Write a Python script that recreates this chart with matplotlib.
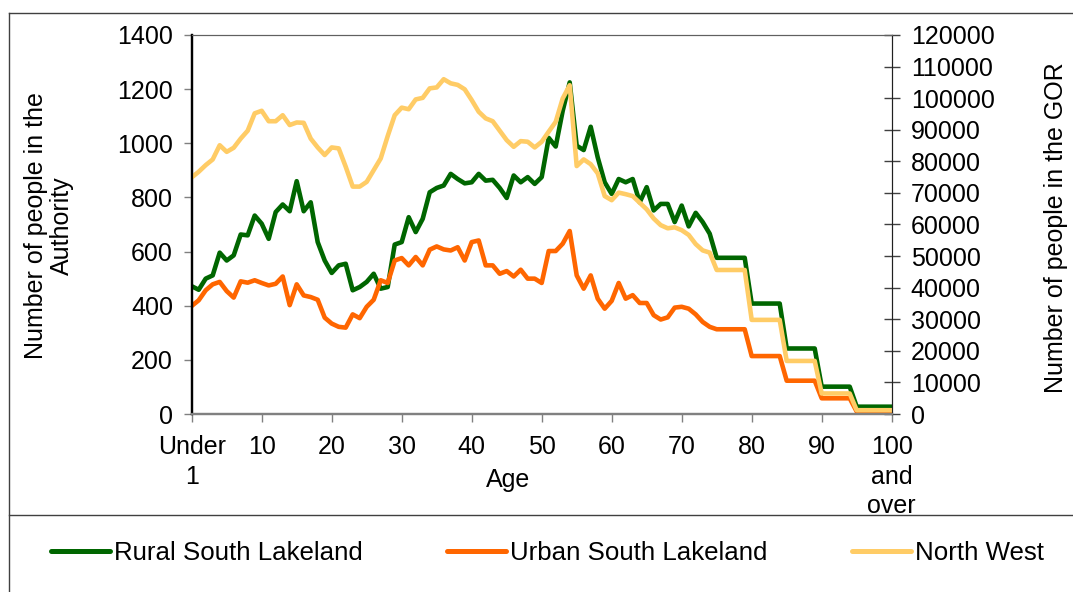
import matplotlib.pyplot as plt
from matplotlib.lines import Line2D

plt.rcParams['font.family'] = ['Liberation Sans', 'DejaVu Sans']

# single years of age, 0 = "Under 1", 100 = "100 and over"
ages = list(range(101))

rural = [472, 459, 500, 512, 596, 567, 586, 663, 660, 733,
         703, 647, 746, 774, 749, 860, 749, 782, 635, 567,
         521, 549, 555, 457, 469, 488, 518, 463, 469, 626,
         635, 727, 672, 721, 819, 835, 844, 887, 868, 852,
         856, 887, 862, 865, 835, 798, 881, 856, 875, 850,
         875, 1020, 988, 1120, 1225, 991, 975, 1061, 948, 856,
         813, 868, 856, 868, 782, 838, 752, 776, 776, 709,
         770, 693, 743, 709, 666, 577, 577, 577, 577, 577,
         408, 408, 408, 408, 408, 242, 242, 242, 242, 242,
         101, 101, 101, 101, 101, 27, 27, 27, 27, 27,
         27]

urban = [399, 420, 457, 479, 488, 454, 430, 490, 485, 494,
         484, 475, 481, 508, 402, 479, 438, 432, 422, 356,
         334, 322, 319, 368, 354, 396, 422, 494, 484, 567,
         576, 549, 580, 549, 607, 619, 608, 604, 616, 567,
         635, 641, 549, 549, 518, 528, 508, 533, 500, 500,
         484, 602, 602, 629, 676, 512, 463, 512, 426, 389,
         418, 484, 426, 439, 410, 410, 365, 349, 357, 393,
         396, 389, 368, 340, 322, 313, 313, 313, 313, 313,
         214, 214, 214, 214, 214, 123, 123, 123, 123, 123,
         58, 58, 58, 58, 58, 9, 9, 9, 9, 9,
         9]

north_west = [74900, 76700, 78800, 80600, 85100, 83000, 84300, 87200, 89700, 95200,
              96000, 92700, 92700, 94600, 91500, 92300, 92200, 87200, 84400, 82000,
              84400, 84100, 78300, 72000, 72000, 73500, 77200, 80900, 88000, 94600,
              97000, 96500, 99600, 100100, 103100, 103400, 106000, 104700, 104200, 102800,
              99400, 95700, 93600, 92700, 89700, 86700, 84600, 86400, 86200, 84400,
              86200, 89400, 92500, 99900, 104100, 78500, 80600, 79100, 76200, 69000,
              67700, 70100, 69600, 69000, 66900, 64800, 61900, 59800, 58800, 59100,
              58200, 56700, 53800, 51800, 51100, 45600, 45600, 45600, 45600, 45600,
              29800, 29800, 29800, 29800, 29800, 16800, 16800, 16800, 16800, 16800,
              6500, 6500, 6500, 6500, 6500, 1200, 1200, 1200, 1200, 1200,
              1200]

tick_ages = [0, 10, 20, 30, 40, 50, 60, 70, 80, 90, 100]
tick_labels = ['Under\n1', '10', '20', '30', '40', '50', '60', '70', '80', '90',
               '100\nand\nover']
series_names = ['Rural South Lakeland', 'Urban South Lakeland', 'North West']
colors = ['#006600', '#FF6600', '#FFCC66']

W, H = 1073, 592
fig = plt.figure(figsize=(W / 100, H / 100), dpi=100)
ax = fig.add_axes([191.7 / W, 1 - 414 / H, 700 / W, 379 / H])
ax2 = ax.twinx()

fs = 18
lw = 3.3
kw = dict(lw=lw, solid_joinstyle='round', solid_capstyle='round')
ax.plot(ages, rural, color=colors[0], **kw)
ax.plot(ages, urban, color=colors[1], **kw)
ax2.plot(ages, north_west, color=colors[2], **kw)

ax.set_xlim(0, 100)
ax.set_ylim(0, 1400)
ax2.set_ylim(0, 120000)
ax.set_xticks(tick_ages)
ax.set_xticklabels(tick_labels, fontsize=fs, linespacing=1.3)
ax.set_yticks(range(0, 1401, 200))
ax.set_yticklabels([str(v) for v in range(0, 1401, 200)], fontsize=fs)
ax2.set_yticks(range(0, 120001, 10000))
ax2.set_yticklabels([str(v) for v in range(0, 120001, 10000)], fontsize=fs)

ax.tick_params(axis='x', direction='out', length=6, width=1, color='#808080', pad=9)
ax.tick_params(axis='y', direction='out', length=5.5, width=1, color='#808080', pad=8)
ax2.tick_params(axis='y', direction='inout', length=11.5, width=1, color='#404040', pad=8)

for a in (ax, ax2):
    a.spines['left'].set_color('black')
    a.spines['left'].set_linewidth(1.6)
    a.spines['bottom'].set_color('#808080')
    a.spines['bottom'].set_linewidth(1.6)
    a.spines['top'].set_color('#606060')
    a.spines['top'].set_linewidth(0.8)
    a.spines['right'].set_color('#202020')
    a.spines['right'].set_linewidth(0.8)

# axis titles
fig.text(508 / W, 1 - 480 / H, 'Age', fontsize=fs, ha='center', va='center')
fig.text(49 / W, 1 - 226 / H, 'Number of people in the\nAuthority', fontsize=fs,
         rotation=90, ha='center', va='center', multialignment='center',
         linespacing=1.1)
fig.text(1056 / W, 1 - 228 / H, 'Number of people in the GOR', fontsize=fs,
         rotation=90, ha='center', va='center')

# outer chart frame and divider above legend
frame_kw = dict(color='#404040', lw=1.0, transform=fig.transFigure)
fig.add_artist(Line2D([9 / W, 9 / W], [0, 1 - 13 / H], **frame_kw))
fig.add_artist(Line2D([9 / W, 1], [1 - 13 / H, 1 - 13 / H], **frame_kw))
fig.add_artist(Line2D([9 / W, 1], [1 - 515 / H, 1 - 515 / H], **frame_kw))

handles = [Line2D([], [], color=c, lw=3.6, solid_capstyle='round') for c in colors]
fig.legend(handles, series_names, loc='center left',
           bbox_to_anchor=(51 / W, 1 - 553 / H), ncol=3, frameon=False,
           fontsize=18.6, handlelength=2.3, handletextpad=0.15,
           columnspacing=3.25, borderpad=0, borderaxespad=0)

fig.savefig('out.png', dpi=100)
